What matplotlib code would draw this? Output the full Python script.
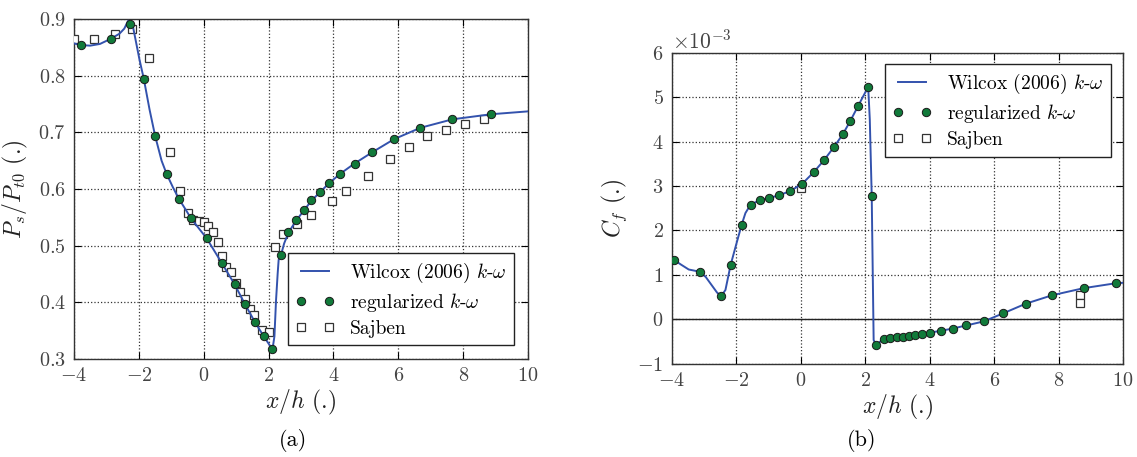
import numpy as np
import matplotlib
matplotlib.use("Agg")
import matplotlib.pyplot as plt

plt.rcParams['font.family'] = 'serif'
plt.rcParams['font.serif'] = ['cmr10']
plt.rcParams['mathtext.fontset'] = 'cm'
plt.rcParams['axes.formatter.use_mathtext'] = True
plt.rcParams['axes.unicode_minus'] = True

## Data: (a) wall pressure ratio
wil_x = [-4.0, -3.8, -3.5, -3.2, -2.87, -2.6, -2.45, -2.33, -2.18, -1.98, -1.85, -1.67,
         -1.5, -1.3, -1.14, -0.95, -0.77, -0.55, -0.39, 0.09, 0.55, 0.95, 1.27, 1.57,
         1.85, 2.12, 2.18, 2.23, 2.28, 2.31, 2.38, 2.48, 2.62, 2.86, 3.1, 3.33, 3.58,
         3.86, 4.21, 4.65, 5.2, 5.87, 6.68, 7.67, 8.87, 10.0]
wil_p = [0.857, 0.854, 0.853, 0.856, 0.865, 0.874, 0.883, 0.897, 0.886, 0.828, 0.795, 0.740,
         0.694, 0.650, 0.626, 0.603, 0.583, 0.563, 0.548, 0.513, 0.470, 0.432, 0.397, 0.366,
         0.340, 0.317, 0.340, 0.404, 0.451, 0.475, 0.483, 0.504, 0.524, 0.545, 0.563, 0.580, 0.594,
         0.610, 0.627, 0.645, 0.665, 0.688, 0.708, 0.723, 0.732, 0.737]

reg_x = [-3.79, -2.87, -2.28, -1.85, -1.50, -1.14, -0.77, -0.39, 0.09, 0.55, 0.95, 1.27,
         1.57, 1.85, 2.12, 2.37, 2.61, 2.85, 3.09, 3.32, 3.57, 3.85, 4.21, 4.65, 5.20,
         5.87, 6.68, 7.67, 8.87]
reg_p = [0.855, 0.865, 0.891, 0.795, 0.694, 0.626, 0.583, 0.548, 0.513, 0.470, 0.432, 0.397,
         0.366, 0.340, 0.317, 0.483, 0.524, 0.546, 0.563, 0.580, 0.594, 0.610, 0.627, 0.645, 0.666,
         0.688, 0.708, 0.723, 0.732]

saj_x = [-4.0, -3.38, -2.75, -2.20, -1.70, -1.03, -0.74, -0.47, -0.32, -0.15, 0.0, 0.14,
         0.29, 0.43, 0.55, 0.70, 0.83, 0.98, 1.13, 1.28, 1.43, 1.56, 1.80, 2.00, 2.21,
         2.43, 2.87, 3.31, 3.97, 4.39, 5.08, 5.75, 6.33, 6.90, 7.48, 8.05, 8.63]
saj_p = [0.865, 0.864, 0.873, 0.882, 0.831, 0.666, 0.597, 0.558, 0.546, 0.544, 0.541, 0.535,
         0.524, 0.506, 0.481, 0.463, 0.453, 0.434, 0.418, 0.406, 0.388, 0.377, 0.351, 0.347, 0.497,
         0.521, 0.538, 0.554, 0.578, 0.596, 0.623, 0.653, 0.674, 0.694, 0.705, 0.715, 0.723]

## Data: (b) skin friction, in units of 1e-3
wil_cx = [-4.0, -3.94, -3.74, -3.48, -3.14, -2.95, -2.81, -2.6, -2.47, -2.34, -2.18, -2.0,
          -1.84, -1.72, -1.56, -1.27, -0.98, -0.68, -0.35, 0.03, 0.40, 0.73, 1.02, 1.30,
          1.54, 1.77, 2.09, 2.14, 2.20, 2.26, 2.34, 2.58, 2.78, 2.97, 3.16, 3.35, 3.55,
          3.76, 4.02, 4.34, 4.71, 5.13, 5.67, 6.27, 6.98, 7.80, 8.78, 9.77, 10.0]
wil_cf = [1.36, 1.34, 1.24, 1.12, 1.07, 0.95, 0.81, 0.60, 0.52, 0.66, 1.22, 1.70,
          2.12, 2.39, 2.58, 2.68, 2.73, 2.79, 2.88, 3.04, 3.31, 3.59, 3.87, 4.16,
          4.47, 4.79, 5.23, 4.50, 2.78, -0.47, -0.57, -0.44, -0.43, -0.41, -0.40, -0.38, -0.35,
          -0.33, -0.30, -0.26, -0.21, -0.14, -0.05, 0.13, 0.35, 0.54, 0.70, 0.81, 0.82]

reg_cx = [-3.94, -3.14, -2.47, -2.18, -1.84, -1.56, -1.27, -0.98, -0.68, -0.35, 0.03, 0.40,
          0.73, 1.02, 1.30, 1.54, 1.77, 2.09, 2.20, 2.34, 2.58, 2.78, 2.97, 3.16, 3.35,
          3.55, 3.76, 4.02, 4.34, 4.71, 5.13, 5.67, 6.27, 6.98, 7.80, 8.78, 9.77]
reg_cf = [1.34, 1.07, 0.52, 1.22, 2.12, 2.58, 2.68, 2.73, 2.79, 2.88, 3.04, 3.31,
          3.59, 3.87, 4.16, 4.47, 4.79, 5.23, 2.78, -0.57, -0.44, -0.43, -0.41, -0.40, -0.38,
          -0.35, -0.33, -0.30, -0.26, -0.21, -0.14, -0.05, 0.13, 0.35, 0.54, 0.70, 0.81]

saj_cx = [0.0, 8.65, 8.65]
saj_cf = [2.95, 0.55, 0.37]

labels = [r'Wilcox (2006) $k$-$\omega$', r'regularized $k$-$\omega$', 'Sajben']

blue = '#3352ad'
green = '#117a3a'
tick_col = '#444444'


def draw(ax, wx, wy, rx, ry, sx, sy):
    s, = ax.plot(sx, sy, ls='none', marker='s', ms=5.5, mfc='white', mec='#333333',
                 mew=0.9, zorder=3)
    l, = ax.plot(wx, wy, color=blue, lw=1.4, zorder=4)
    g, = ax.plot(rx, ry, ls='none', marker='o', ms=6, mfc=green, mec='#1a1a1a',
                 mew=0.7, zorder=5)
    ax.grid(True, ls=':', color='#333333', lw=0.9)
    ax.tick_params(direction='in', top=True, right=True, labelsize=14.5,
                   labelcolor=tick_col, length=5, pad=6)
    for sp in ax.spines.values():
        sp.set_color('#333333')
        sp.set_linewidth(1.0)
    ax.set_xlim(-4, 10)
    ax.set_xticks(np.arange(-4, 11, 2))
    ax.set_xlabel(r'$x/h$ (.)', fontsize=17, color='#222222', labelpad=2)
    return l, g, s


fig = plt.figure(figsize=(11.37, 4.57), dpi=100)
ax1 = fig.add_axes([0.0651, 0.2144, 0.3993, 0.744])
ax2 = fig.add_axes([0.591, 0.2042, 0.3967, 0.6805])

h1 = draw(ax1, wil_x, wil_p, reg_x, reg_p, saj_x, saj_p)
ax1.set_ylim(0.3, 0.9)
ax1.set_yticks(np.arange(0.3, 0.91, 0.1))
ax1.set_ylabel(r'$P_s/P_{t0}$ (.)', fontsize=17, color='#222222', labelpad=6)
ax1.legend(h1, labels, loc='lower right', numpoints=2, fancybox=False,
           edgecolor='#222222', fontsize=14, framealpha=1, borderaxespad=0.7,
           handlelength=2.0, labelspacing=0.3)

cf_scale = 1e-3
h2 = draw(ax2, wil_cx, np.array(wil_cf) * cf_scale, reg_cx, np.array(reg_cf) * cf_scale,
          saj_cx, np.array(saj_cf) * cf_scale)
ax2.axhline(0, color='#222222', lw=1.0, zorder=2)
ax2.set_ylim(-1e-3, 6e-3)
ax2.set_yticks(np.arange(-1, 7) * cf_scale)
ax2.ticklabel_format(style='sci', axis='y', scilimits=(0, 0), useMathText=True)
ax2.yaxis.get_offset_text().set_fontsize(15.5)
ax2.yaxis.get_offset_text().set_color(tick_col)
ax2.set_ylabel(r'$C_f$ (.)', fontsize=17, color='#222222', labelpad=6)
ax2.legend(h2, labels, loc='upper right', numpoints=2, fancybox=False,
           edgecolor='#222222', fontsize=14, framealpha=1, borderaxespad=0.6,
           handlelength=2.0, labelspacing=0.3)

fig.text(0.258, 0.01, '(a)', fontsize=16, ha='center', va='bottom')
fig.text(0.758, 0.01, '(b)', fontsize=16, ha='center', va='bottom')

fig.savefig('out.png', dpi=100)
